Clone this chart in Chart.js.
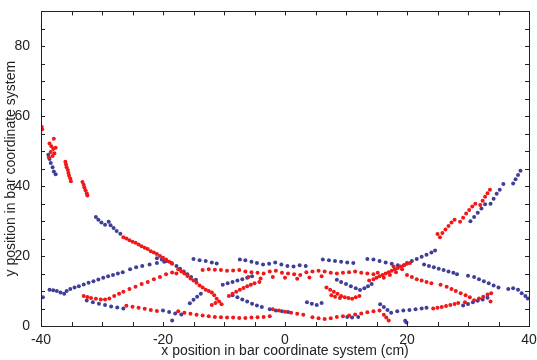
<!DOCTYPE html>
<html>
<head>
<meta charset="utf-8">
<script src="https://cdn.jsdelivr.net/npm/chart.js@4"></script>
<style>
  html, body { margin: 0; padding: 0; background: #fff; }
  #wrap { width: 537px; height: 360px; }
</style>
</head>
<body>
<div id="wrap"><canvas id="trackChart"></canvas></div>
<script>
// hit positions, [x cm, y cm]
const redHits = [
    [-39.9, 57], [-39.8, 56.3],
    [-38.6, 52.2], [-38.3, 51.4], [-38.0, 50.6], [-38.4, 49.8], [-37.8, 49.4], [-38.1, 48.6], [-37.6, 51], [-37.9, 53.6], [-38.7, 48.3],
    [-36.0, 47.0], [-35.9, 46.2], [-35.8, 45.4], [-35.6, 44.6], [-35.5, 43.8], [-35.4, 43], [-35.2, 42.2], [-35.1, 41.4],
    [-33.2, 41.2], [-33.0, 40.4], [-32.9, 39.6], [-32.7, 38.8], [-32.5, 38], [-32.4, 37.3],
    [-26.5, 25.4], [-26, 25], [-25.5, 24.5], [-25, 24.1], [-24.5, 23.8], [-24, 23.3], [-23.5, 22.8], [-23, 22.4], [-22.5, 22],
    [-22, 21.4], [-21.5, 21], [-21, 20.6], [-20.5, 20], [-20, 19.5], [-19.5, 19], [-19, 18.4], [-18.5, 17.8],
    [-17.5, 16.2], [-17, 15.6], [-16.5, 15], [-16, 14.3], [-15.5, 13.6], [-15, 13], [-14.5, 12.4], [-14, 11.6], [-13.5, 11],
    [-13, 10.4], [-12.5, 10], [-12, 9.6],
    [-11.6, 8.8], [-11.2, 7.8], [-10.8, 7], [-10.4, 6.2], [-12, 6], [-11.4, 6.6],
    [-33, 8.6], [-32.4, 8.3], [-31.8, 8], [-31, 7.8], [-30.2, 7.6], [-29.5, 7.6], [-28.8, 7.9], [-28, 8.6], [-27.2, 9.2],
    [-26.5, 9.8], [-25.5, 10.6], [-24.5, 11.2], [-23.5, 12], [-22.5, 12.6], [-21.5, 13.4], [-20.5, 14], [-19.5, 14.8],
    [-18.5, 15.3], [-17.8, 15],
    [-26, 5.8], [-25, 5.5], [-24, 5.2], [-23, 4.9], [-22, 4.6], [-21, 4.3], [-17.5, 4.2], [-16.5, 3.8], [-15.5, 3.5],
    [-14.5, 3.2], [-13.5, 3], [-12.5, 2.8], [-11.5, 2.6], [-10.5, 2.5], [-9.5, 2.4], [-8.5, 2.4], [-7.5, 2.3], [-6.5, 2.3],
    [-5.5, 2.4], [-4.5, 2.5], [-3.5, 2.6], [-2.5, 2.8],
    [-2, 4.8], [-1, 4.4], [0, 4.1], [1, 3.8], [2, 3.5], [3, 3.2],
    [-13.5, 16], [-12.5, 16.2], [-11.5, 16.1], [-10.5, 16], [-9.5, 15.8], [-8.5, 15.9], [-7.5, 16], [-6.5, 15.6],
    [-5.5, 15.4], [-4.5, 15.2], [-3.5, 15], [-2.5, 15.6], [-1.5, 15.8], [-0.5, 15.2], [0.5, 15], [1.5, 14.8], [2.5, 14.6],
    [3.5, 15.4], [4.5, 15.6], [5.5, 15.8], [6.5, 15.6], [7.5, 15.2], [8.5, 15], [9.5, 15.2], [10.5, 15.4], [11.5, 15.6],
    [12.5, 15.2], [13.5, 15], [14.5, 14.8],
    [-6, 14], [-4, 13.6], [-2, 14], [0, 13.8], [2, 13.5], [4, 13.9], [6, 14.2],
    [13.8, 13], [14.5, 13.4], [15, 13.8], [15.5, 14.2], [16, 14.6], [16.5, 15], [17, 15.4], [17.5, 15.8], [18, 16.2],
    [18.5, 16.6], [19, 17], [19.5, 17.4], [20, 17.8], [20.5, 18], [16.2, 13.8], [17.2, 14.6], [18.2, 15.4], [19.2, 16.2],
    [15.2, 15.2], [17.8, 17],
    [20, 14.6], [20.8, 14], [21.6, 13.4], [22.4, 13], [23.2, 12.6], [24, 12.2], [25.5, 11.8], [26.5, 11.2], [27.3, 10.6],
    [28, 10], [28.8, 9.4], [29.6, 8.8], [30.3, 8.2],
    [24.3, 5], [25, 5.2], [25.7, 5.4], [26.4, 5.7], [27.1, 6], [27.8, 6.3], [28.4, 6.6], [29.5, 6.8],
    [31, 7.4], [31.8, 7.9], [32.5, 8.4], [33.2, 9], [33.8, 9.4], [33.7, 7],
    [-9.2, 8.6], [-8.6, 9.2], [-8, 9.8], [-7.4, 10.4], [-6.8, 10.9], [-6.2, 11.4], [-5.6, 11.8], [-5, 12.2], [-4.2, 12.6],
    [6.8, 11], [7.4, 10.4], [8, 9.8], [8.6, 9.2], [9.2, 8.6], [9.8, 8.2], [10.4, 8], [11, 7.8], [11.6, 8.2], [12.2, 8.6],
    [8.2, 8.4], [9, 8], [7.6, 8.8],
    [4.5, 2.5], [5.5, 2.2], [6.5, 2], [7.5, 2.2], [8.5, 2.6], [9.5, 2.8], [10.5, 3], [11.5, 3.3], [12.5, 3.6],
    [13.5, 3.9], [14.5, 4.2], [15.5, 4.4], [16.2, 3.2], [16.6, 2.4], [17, 1.6],
    [25, 26.3], [25.4, 25.4], [25.8, 26.6], [26.3, 27.6], [26.8, 28.6], [27.3, 29.6], [27.8, 30.4],
    [28.7, 29.8], [29.2, 31], [29.7, 32.2], [30.2, 33.2], [30.7, 34.2], [31.2, 35],
    [32, 34.6], [32.4, 35.8], [32.8, 37], [33.2, 38], [33.6, 39]
];

const blueHits = [
    [-38.8, 49], [-38.6, 47.8], [-38.4, 46.6], [-38.1, 45.4], [-37.9, 44.2], [-37.6, 43.4],
    [-31, 31.2], [-30.6, 30.4], [-30.1, 29.6], [-29.5, 29], [-28.9, 29.8], [-28.6, 28.8], [-28.1, 28], [-27.6, 27.2], [-27, 26.4],
    [-21, 19.4], [-20.2, 19], [-19.4, 18.6], [-18.6, 18], [-17.8, 17.2], [-17.2, 16.4], [-16.6, 15.6], [-16, 14.8],
    [-15.4, 14], [-14.6, 13.2],
    [-39.7, 8.2], [-38.6, 10.4], [-38, 10.2], [-37.4, 10], [-36.8, 9.6], [-36.2, 9.2], [-35.8, 10], [-35.2, 10.6],
    [-34.5, 11], [-33.8, 11.4], [-33, 11.9], [-32.2, 12.4], [-31.4, 12.8], [-30.6, 13.3], [-29.8, 13.8], [-29, 14.2],
    [-28.2, 14.6], [-27.4, 15], [-26.6, 15.4], [-25.4, 16.2], [-24.4, 16.8], [-23.4, 17.2], [-22.2, 17.6], [-21, 18], [-19.8, 18.4],
    [-15, 19.2], [-14, 18.8], [-13, 18.6], [-12, 18.2], [-11.2, 17.9], [-7.4, 19], [-6.5, 18.8], [-5.5, 18.4], [-4.6, 18],
    [-3.6, 17.6], [-2.6, 17.8], [-1.6, 18.2], [-0.6, 17.6], [0.4, 17.2], [1.4, 17], [2.4, 17.4], [3.4, 17.2], [6.2, 19],
    [7.2, 18.8], [8.2, 18.6], [9.2, 18.4], [10.2, 18.2], [11.2, 18], [13.5, 19.2], [14.5, 19], [15.5, 18.6], [16.5, 18.2],
    [17.5, 17.8], [18.5, 17.4], [19.5, 17.4],
    [20, 18], [20.8, 18.6], [21.6, 19.2], [22.4, 19.8], [23.2, 20.4], [24, 21], [24.6, 21.6],
    [22.8, 17.6], [23.6, 17.2], [24.4, 16.8], [25.2, 16.4], [26, 16], [26.8, 15.6], [27.6, 15.2], [28.2, 14.8],
    [30, 14.4], [31, 14], [31.8, 13.4], [32.6, 12.8], [33.4, 12.2], [34.2, 11.6], [35, 11],
    [36.6, 10.6], [37.4, 10.8], [38.2, 10.4], [38.8, 9.4], [39.4, 8.6], [39.8, 7.9],
    [29.2, 5.9], [30, 6.3], [30.8, 6.8], [31.6, 7.2], [32.4, 7.6], [33.2, 8.1],
    [18.4, 4.2], [19.4, 4.4], [20.4, 4.6], [21.4, 4.8], [22.4, 5], [23.2, 5.2],
    [15.6, 6.2], [16.2, 5.4], [16.8, 4.6], [17.4, 3.8], [19.7, 1.5], [19.9, 1],
    [8.5, 13.2], [9.2, 12.6], [10, 12], [10.8, 11.4], [11.6, 10.8], [12.3, 10.3], [13, 10.8], [13.6, 11.4], [14.2, 12],
    [-10.2, 11.8], [-9.4, 12.2], [-8.6, 12.6], [-7.8, 13], [-7, 13.4], [-6.2, 13.8], [-5.4, 14.2],
    [-8.6, 8.8], [-7.8, 8.2], [-7, 7.6], [-6.2, 7], [-5.4, 6.4], [-4.6, 5.9], [-3.8, 5.4],
    [3.6, 6.8], [4.4, 6.4], [5.2, 6], [6, 6.6],
    [-32.5, 7.3], [-31.5, 6.8], [-30.5, 6.4], [-29.5, 6], [-28.5, 5.6], [-27.5, 5.3], [-26.5, 5],
    [-20, 4.4], [-19, 4], [-18, 3.6], [-17, 3.3], [-18.5, 1.6],
    [-2.5, 4.8], [-1.5, 4.4], [-0.5, 4.2], [0.5, 4],
    [10.2, 2.6], [11, 2.4], [12, 2.6],
    [-15.6, 6.5], [-15, 7.5], [-14.4, 8.4], [-13.8, 9.2],
    [30.4, 30], [31, 31.2], [31.6, 32.4], [32.2, 33.6], [32.8, 34.8], [33.7, 35], [34.2, 36.4], [34.7, 37.8],
    [35.2, 39], [35.8, 40.6], [37.4, 40.8], [37.8, 42], [38.2, 43.2], [38.6, 44.4]
];

const xTickLabels = [-40, -20, 0, 20, 40];
const yTickLabels = [0, 20, 40, 60, 80];

const toPoints = list => list.map(p => ({ x: p[0], y: p[1] }));

// little inward ticks on all four sides plus the closed box
const boxTicks = {
    id: "boxTicks",
    afterDraw(chart) {
        const { ctx, chartArea: a, scales } = chart;
        ctx.save();
        ctx.strokeStyle = "#222";
        ctx.lineWidth = 1;
        ctx.beginPath();
        for (let v = -40; v <= 40; v += 5) {
            const px = Math.round(scales.x.getPixelForValue(v)) + 0.5;
            ctx.moveTo(px, a.bottom); ctx.lineTo(px, a.bottom - 4);
            ctx.moveTo(px, a.top); ctx.lineTo(px, a.top + 4);
        }
        for (let v = 0; v <= 90; v += 5) {
            const py = Math.round(scales.y.getPixelForValue(v)) + 0.5;
            ctx.moveTo(a.left, py); ctx.lineTo(a.left + 4, py);
            ctx.moveTo(a.right, py); ctx.lineTo(a.right - 4, py);
        }
        ctx.stroke();
        ctx.strokeRect(Math.round(a.left) + 0.5, Math.round(a.top) + 0.5,
            Math.round(a.right - a.left), Math.round(a.bottom - a.top));
        ctx.restore();
    }
};

new Chart(document.getElementById("trackChart"), {
    type: "scatter",
    data: {
        datasets: [{
            label: "red",
            data: toPoints(redHits),
            backgroundColor: "#f01818",
            borderWidth: 0,
            pointRadius: 2
        }, {
            label: "blue",
            data: toPoints(blueHits),
            backgroundColor: "#3f3f99",
            borderWidth: 0,
            pointRadius: 2
        }]
    },
    options: {
        responsive: true,
        maintainAspectRatio: false,
        animation: false,
        layout: { padding: { top: 8, right: 8, left: 0, bottom: 0 } },
        plugins: {
            legend: { display: false },
            tooltip: { enabled: false }
        },
        scales: {
            x: {
                type: "linear",
                min: -40,
                max: 40,
                afterBuildTicks(scale) {
                    scale.ticks = xTickLabels.map(v => ({ value: v }));
                },
                afterFit(scale) { scale.height = 34; },
                grid: { display: false },
                border: { display: false },
                ticks: {
                    color: "#222",
                    padding: -2,
                    maxRotation: 0,
                    autoSkip: false,
                    font: { family: "Liberation Sans", size: 14 }
                },
                title: {
                    display: true,
                    text: "x position in bar coordinate system (cm)",
                    color: "#222",
                    padding: { top: 0, bottom: 0 },
                    font: { family: "Liberation Sans", size: 14 }
                }
            },
            y: {
                type: "linear",
                min: 0,
                max: 90,
                afterBuildTicks(scale) {
                    scale.ticks = yTickLabels.map(v => ({ value: v }));
                },
                afterFit(scale) { scale.width = 41; },
                grid: { display: false },
                border: { display: false },
                ticks: {
                    color: "#222",
                    padding: 3,
                    autoSkip: false,
                    font: { family: "Liberation Sans", size: 14 }
                },
                title: {
                    display: true,
                    text: "y position in bar coordinate system",
                    color: "#222",
                    padding: { top: 3, bottom: 0 },
                    font: { family: "Liberation Sans", size: 14 }
                }
            }
        }
    },
    plugins: [boxTicks]
});
</script>
</body>
</html>
